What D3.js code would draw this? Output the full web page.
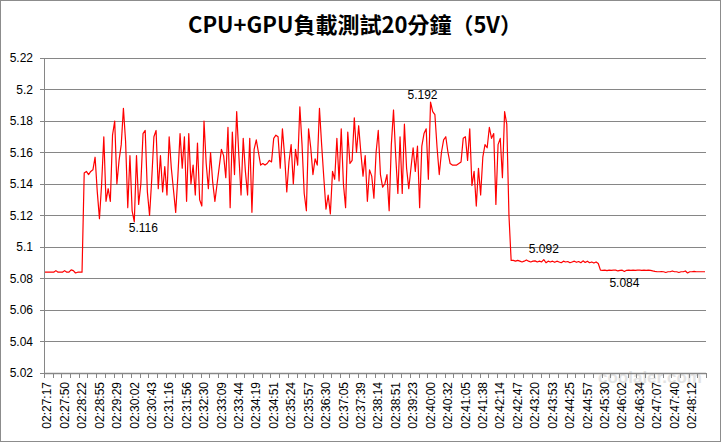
<!DOCTYPE html>
<html><head><meta charset="utf-8">
<script src="https://cdn.jsdelivr.net/npm/d3@7"></script>
<style>
html,body{margin:0;padding:0;background:#fff;}
svg{display:block;font-family:"Liberation Sans",Arial,sans-serif;}
</style></head>
<body><svg id="c" width="721" height="442"></svg>
<script>
// ---- data ----
const title = "CPU+GPU負載測試20分鐘（5V）";
const timeLabels = ["02:27:17","02:27:50","02:28:22","02:28:55","02:29:29","02:30:02","02:30:43","02:31:16","02:31:56","02:32:30","02:33:09","02:33:44","02:34:19","02:34:51","02:35:24","02:35:57","02:36:30","02:37:05","02:37:39","02:38:14","02:38:51","02:39:23","02:40:00","02:40:32","02:41:05","02:41:38","02:42:14","02:42:47","02:43:20","02:43:53","02:44:25","02:44:57","02:45:30","02:46:02","02:46:34","02:47:07","02:47:40","02:48:12"];
const yTicks = [5.02,5.04,5.06,5.08,5.10,5.12,5.14,5.16,5.18,5.20,5.22];
const idleBefore = [5.084,5.084,5.084,5.084,5.084,5.085,5.084,5.084,5.084,5.085,5.084,5.084,5.0855,5.085,5.0835,5.084,5.084,5.084];
const loadPhase = [
5.147,5.148,5.146,5.148,5.149,5.157,5.135,5.118,5.140,5.170,5.129,5.137,5.129,5.171,5.180,5.140,5.155,5.165,5.188,5.167,5.125,5.158,5.123,5.116,5.158,5.127,5.140,5.172,5.174,5.135,5.120,5.143,
5.170,5.174,5.137,5.158,5.135,5.151,5.133,5.170,5.150,5.136,5.122,5.145,5.172,5.150,5.170,5.129,5.172,5.140,5.152,5.133,5.166,5.130,5.126,5.180,5.153,5.137,5.160,5.141,5.129,5.140,5.151,5.162,5.158,5.144,5.176,5.125,5.173,5.146,5.186,5.158,5.133,5.169,5.148,5.133,5.169,5.122,5.162,5.168,5.160,5.152,
5.153,5.152,5.153,5.155,5.154,5.169,5.171,5.170,5.150,5.175,5.158,5.135,5.154,5.165,5.140,5.162,5.152,5.189,5.165,5.134,5.123,5.175,5.163,5.146,5.156,5.152,5.188,5.165,5.144,5.124,5.133,5.121,5.148,5.143,5.169,5.142,5.175,5.140,5.125,5.173,5.153,5.155,5.182,5.160,5.177,5.160,5.145,5.158,5.129,5.149,
5.145,5.131,5.160,5.174,5.146,5.138,5.140,5.146,5.123,5.165,5.187,5.158,5.134,5.170,5.134,5.178,5.150,5.137,5.150,5.163,5.148,5.164,5.125,5.164,5.172,5.175,5.143,5.192,5.186,5.184,5.163,5.146,5.160,5.168,5.170,5.160,5.153,5.152,5.152,5.152,5.153,5.154,5.169,5.170,5.155,5.175,5.139,5.148,5.126,5.150,5.133,5.157,5.165,5.163,5.176,5.169,5.172,5.127,5.165,5.169,5.144,5.186,5.178,5.120,5.0915];
const idleAfter1 = [5.0915,5.091,5.0915,5.091,5.0905,5.091,5.0918,5.091,5.0905,5.091,5.0912,5.0905,5.091,5.0905,5.092,5.090,5.091,5.0905,5.091,5.0903,5.091,5.0905,5.090,5.091,5.0905,5.0908,5.090,5.0905,5.091,5.0903,5.0908,5.090,5.0912,5.0902,5.091,5.090,5.0905,5.0898,5.0905,5.0895];
const idleAfter2 = [5.0853,5.0852,5.0853,5.085,5.0853,5.0852,5.0853,5.0853,5.0848,5.0852,5.0853,5.0845,5.0852,5.0853,5.0852,5.0853,5.0852,5.0853,5.0853,5.0852,5.0853,5.0852,5.0853,5.0852,5.0848,5.0845,
5.0843,5.0843,5.0844,5.0843,5.0838,5.0843,5.0843,5.0848,5.0843,5.0843,5.0838,5.0843,5.0843,5.0848,5.0835,5.0843,5.0843,5.0845,5.0843,5.0843,5.0843,5.0843,5.0843];
const annotIdx = [41,177,229,266];
const annotText = ["5.116","5.192","5.092","5.084"];

const values = idleBefore.concat(loadPhase, idleAfter1, idleAfter2);
const N = values.length;
const labelStep = 8;

// ---- chart ----
const svg = d3.select("#c");
const grid = "#868686";
const x = d3.scaleLinear().domain([0, N-1]).range([45, 705]);
const y = d3.scaleLinear().domain([5.02, 5.22]).range([373, 58]);

svg.append("rect").attr("x",0.5).attr("y",0.5).attr("width",720).attr("height",441)
  .attr("fill","#fff").attr("stroke","#8c8c8c");

svg.append("text").attr("x",355).attr("y",33).attr("text-anchor","middle")
  .style("font-family","'Noto Sans CJK TC','Noto Sans CJK SC',sans-serif")
  .style("font-weight","bold").style("font-size","22px").attr("fill","#000").text(title);

// gridlines
svg.append("g").selectAll("line").data(yTicks.slice(1)).join("line")
  .attr("x1",44).attr("x2",706).attr("y1",d=>Math.round(y(d))+0.5).attr("y2",d=>Math.round(y(d))+0.5)
  .attr("stroke",grid).attr("stroke-width",1);

// y axis
const fmt = d3.format(".2~f");
const ya = svg.append("g");
ya.append("line").attr("x1",44.5).attr("x2",44.5).attr("y1",58).attr("y2",374).attr("stroke",grid);
ya.selectAll("line.t").data(yTicks).join("line").attr("class","t")
  .attr("x1",40).attr("x2",44).attr("y1",d=>Math.round(y(d))+0.5).attr("y2",d=>Math.round(y(d))+0.5).attr("stroke",grid);
ya.selectAll("text").data(yTicks).join("text")
  .attr("x",33).attr("y",d=>y(d)).attr("dy","0.35em").attr("text-anchor","end")
  .style("font-size","12px").attr("fill","#000").text(d=>fmt(d));

// watermark (behind axis labels)
svg.append("text").attr("x",598).attr("y",383).style("font-size","17px").style("font-weight","bold")
  .attr("fill","#d8d8d8").attr("opacity",0.7).text("coolaler.com");

// x axis
const xa = svg.append("g");
xa.append("line").attr("x1",44).attr("x2",706).attr("y1",373.5).attr("y2",373.5).attr("stroke",grid).attr("stroke-width",1.5);
const tickIdx = d3.range(0, N/4 + 1).map(m => m*4 - 0.5);
xa.selectAll("line.t").data(tickIdx).join("line").attr("class","t")
  .attr("x1",d=>Math.round(x(d))+0.5).attr("x2",d=>Math.round(x(d))+0.5).attr("y1",373).attr("y2",378).attr("stroke",grid);
xa.selectAll("text").data(timeLabels).join("text")
  .attr("transform",(d,j)=>`translate(${x(j*labelStep+1)},382) rotate(-90)`)
  .attr("dy","0.35em").attr("text-anchor","end")
  .style("font-size","12px").attr("fill","#000").text(d=>d);

// line
const line = d3.line().x((d,i)=>x(i)).y(d=>y(d));
svg.append("path").datum(values).attr("d",line).attr("fill","none")
  .attr("stroke","#ff0000").attr("stroke-width",1.2).attr("stroke-linejoin","round");

// data labels
const offs = [[9,10],[-8,-3],[0,-7],[0,16]];
svg.append("g").selectAll("text").data(annotIdx).join("text")
  .attr("x",(d,k)=>x(d)+offs[k][0]).attr("y",(d,k)=>y(values[d])+offs[k][1])
  .attr("text-anchor","middle").style("font-size","12px").attr("fill","#000")
  .text((d,k)=>annotText[k]);
</script></body></html>
